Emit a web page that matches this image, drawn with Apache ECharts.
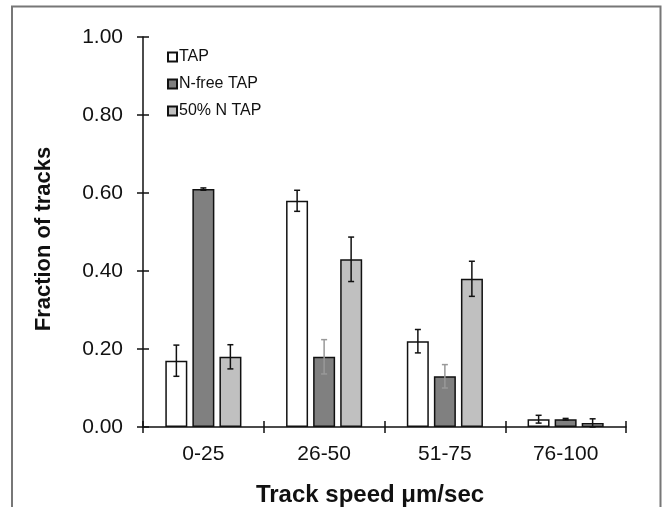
<!DOCTYPE html>
<html>
<head>
<meta charset="utf-8">
<script src="https://cdn.jsdelivr.net/npm/echarts@6/dist/echarts.min.js"></script>
<style>
html,body{margin:0;padding:0;background:#fff;}
#c{width:663px;height:507px;}
</style>
</head>
<body>
<div id="c"></div>
<script>
var categories = ['0-25', '26-50', '51-75', '76-100'];
var seriesNames = ['TAP', 'N-free TAP', '50% N TAP'];
var tapValues = [0.17, 0.58, 0.22, 0.02];
var nfreeValues = [0.61, 0.18, 0.13, 0.02];
var halfNValues = [0.18, 0.43, 0.38, 0.01];
var tapErr = [0.04, 0.027, 0.03, 0.01];
var nfreeErr = [0.003, 0.044, 0.03, 0.002];
var halfNErr = [0.031, 0.057, 0.045, 0.011];
var xTitle = 'Track speed \u03bcm/sec';
var yTitle = 'Fraction of tracks';

var font = 'Arial, "Liberation Sans", sans-serif';
var values = [tapValues, nfreeValues, halfNValues];
var errs = [tapErr, nfreeErr, halfNErr];
var fills = ['#ffffff', '#808080', '#c0c0c0'];
var errColors = [['#111','#111','#111','#111'], ['#111','#999','#999','#111'], ['#111','#111','#111','#111']];
var offsets = [-27, 0, 27];

var chart = echarts.init(document.getElementById('c'), null, {renderer: 'canvas'});

var series = [];
values.forEach(function (vals, i) {
  series.push({
    name: seriesNames[i],
    type: 'bar',
    data: vals,
    barWidth: 22,
    barGap: '23%',
    itemStyle: {color: fills[i], borderColor: '#111', borderWidth: 1.5},
    emphasis: {disabled: true},
    z: 2
  });
});
values.forEach(function (vals, i) {
  series.push({
    type: 'custom',
    name: 'err' + i,
    data: vals.map(function (v, k) { return [k, v, errs[i][k]]; }),
    z: 5,
    renderItem: function (params, api) {
      var k = api.value(0), v = api.value(1), e = api.value(2);
      var top = api.coord([k, v + e]);
      var bot = api.coord([k, Math.max(0, v - e)]);
      var x = top[0] + offsets[i];
      var c = errColors[i][params.dataIndex];
      var st = {stroke: c, lineWidth: 1.5};
      return {
        type: 'group',
        children: [
          {type: 'line', shape: {x1: x, y1: top[1], x2: x, y2: bot[1]}, style: st},
          {type: 'line', shape: {x1: x - 3, y1: top[1], x2: x + 3, y2: top[1]}, style: st},
          {type: 'line', shape: {x1: x - 3, y1: bot[1], x2: x + 3, y2: bot[1]}, style: st}
        ]
      };
    }
  });
});

chart.setOption({
  animation: false,
  backgroundColor: '#fff',
  graphic: [{
    type: 'polyline',
    shape: {points: [[12, 507], [12, 6.5], [660.5, 6.5], [660.5, 507]]},
    style: {stroke: '#777', lineWidth: 2, fill: null},
    silent: true
  }, {
    type: 'text',
    x: 370, y: 495,
    style: {text: xTitle, fontFamily: font, fontSize: 24, fontWeight: 'bold', fill: '#111',
      align: 'center', verticalAlign: 'middle'},
    silent: true
  }, {
    type: 'text',
    x: 44, y: 239,
    rotation: Math.PI / 2,
    style: {text: yTitle, fontFamily: font, fontSize: 22, fontWeight: 'bold', fill: '#111',
      align: 'center', verticalAlign: 'middle'},
    silent: true
  }],
  legend: {
    data: seriesNames,
    orient: 'vertical',
    left: 162,
    top: 44,
    itemWidth: 9,
    itemHeight: 9,
    itemGap: 11,
    icon: 'rect',
    textStyle: {fontFamily: font, fontSize: 16, color: '#111', padding: [0, 0, 0, -3]},
    selectedMode: false
  },
  grid: {left: 143, right: 37, top: 37, bottom: 80, containLabel: false, outerBoundsMode: 'none'},
  xAxis: [{
    type: 'category',
    data: categories,
    axisLine: {lineStyle: {color: '#111', width: 1.5}},
    axisTick: {show: true, length: 6, lineStyle: {color: '#111', width: 1.5}},
    axisLabel: {fontFamily: font, fontSize: 21, color: '#111', margin: 17}
  }, {
    type: 'category',
    data: categories,
    position: 'bottom',
    axisLine: {show: false},
    axisTick: {show: true, inside: true, length: 6, lineStyle: {color: '#111', width: 1.5}},
    axisLabel: {show: false}
  }],
  yAxis: [{
    type: 'value',
    min: 0, max: 1, interval: 0.2,
    axisLine: {show: true, lineStyle: {color: '#111', width: 1.5}},
    axisTick: {show: true, length: 6, lineStyle: {color: '#111', width: 1.5}},
    splitLine: {show: false},
    axisLabel: {fontFamily: font, fontSize: 21, color: '#111', margin: 20,
      formatter: function (v) { return v.toFixed(2); }}
  }, {
    type: 'value',
    min: 0, max: 1, interval: 0.2,
    position: 'left',
    axisLine: {show: false},
    axisTick: {show: true, inside: true, length: 6, lineStyle: {color: '#111', width: 1.5}},
    splitLine: {show: false},
    axisLabel: {show: false}
  }],
  series: series
});
</script>
</body>
</html>
